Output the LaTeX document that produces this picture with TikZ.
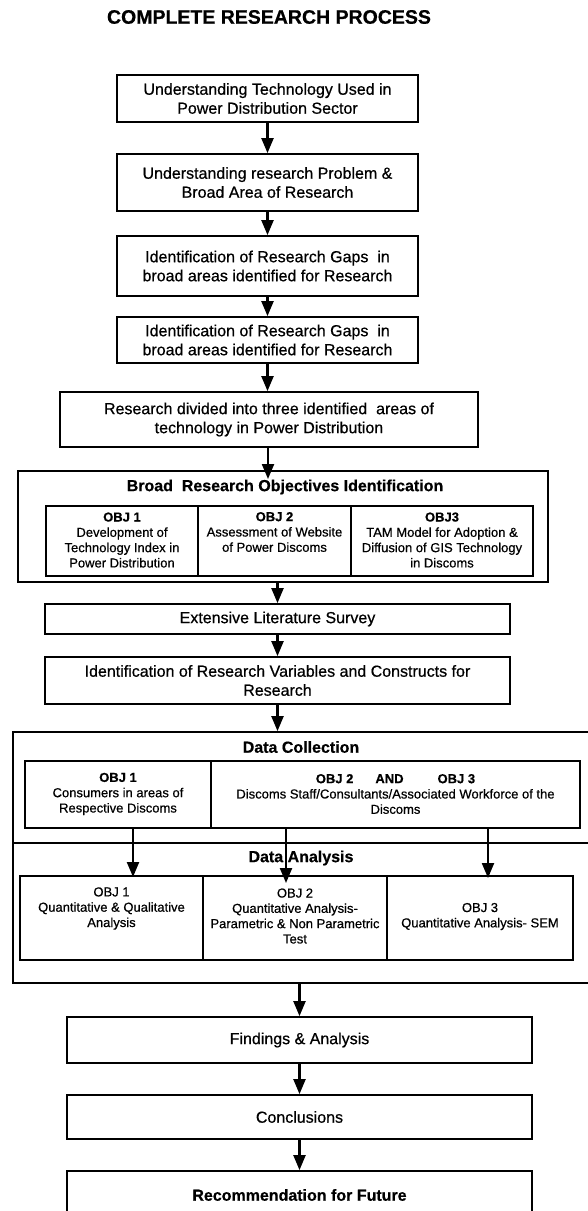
\documentclass[tikz,border=0pt]{standalone}
\usepackage{fontspec}
\setmainfont{Liberation Sans}[UprightFeatures={FakeBold=0.6},BoldFeatures={FakeBold=0.6}]
\usetikzlibrary{arrows.meta}
\begin{document}
\begin{tikzpicture}[x=1pt,y=-1pt,
  box/.style={draw, line width=1.8pt, inner sep=0pt, align=center, font=\fontsize{16}{19}\selectfont},
  cell/.style={draw, line width=1.8pt, inner sep=0pt},
  small/.style={align=center, inner sep=0pt, font=\fontsize{13}{15.3}\selectfont},
  head/.style={inner sep=0pt, font=\bfseries\fontsize{16}{19}\selectfont},
  arr/.style={line width=2.2pt, -{Triangle[width=12pt,length=15pt]}},
]
\useasboundingbox (0,0) rectangle (587,1211);
\fill[white] (0,0) rectangle (587,1211);

% title
\node[inner sep=0pt, font=\bfseries\fontsize{19.5}{22}\selectfont] (title) at (269,17) {COMPLETE RESEARCH PROCESS};

% top chain
\node[box, minimum width=301pt, minimum height=47pt] (b1) at (267.5,98.5) {Understanding Technology Used in\\Power Distribution Sector};
\node[box, minimum width=301pt, minimum height=57pt] (b2) at (267.5,182.5) {Understanding research Problem \&\\Broad Area of Research};
\node[box, minimum width=301pt, minimum height=60pt] (b3) at (267.5,266) {Identification of Research Gaps\ \ in\\broad areas identified for Research};
\node[box, minimum width=301pt, minimum height=46pt] (b4) at (267.5,340) {Identification of Research Gaps\ \ in\\broad areas identified for Research};
\node[box, minimum width=418pt, minimum height=55pt] (b5) at (269,419.5) {Research divided into three identified\ \ areas of\\technology in Power Distribution};

% broad objectives
\node[cell, minimum width=530pt, minimum height=111pt] (broad) at (283,526.5) {};
\node[head] (broadT) at (285,487) {Broad\ \ Research Objectives Identification};
\node[cell, minimum width=152pt, minimum height=70pt] (o1) at (122,541) {};
\node[cell, minimum width=153pt, minimum height=70pt] (o2) at (274.5,541) {};
\node[cell, minimum width=182pt, minimum height=70pt] (o3) at (442,541) {};
\node[small] (o1t) at (122,540) {\textbf{OBJ 1}\\Development of\\Technology Index in\\Power Distribution};
\node[small] (o2t) at (274.5,532) {\textbf{OBJ 2}\\Assessment of Website\\of Power Discoms};
\node[small] (o3t) at (442,540) {\textbf{OBJ3}\\TAM Model for Adoption \&\\Diffusion of GIS Technology\\in Discoms};

\node[box, minimum width=465pt, minimum height=30pt] (ext) at (277.5,619) {Extensive Literature Survey};
\node[box, minimum width=465pt, minimum height=47pt] (iv) at (277.5,680.5) {Identification of Research Variables and Constructs for\\Research};

% data collection / analysis
\node[cell, minimum width=597pt, minimum height=251pt] (data) at (311.5,857.5) {};
\coordinate (sepL) at (13,843);
\coordinate (sepR) at (610,843);
\draw[line width=1.8pt] (sepL) -- (sepR);
\node[head] (dcT) at (301,747) {Data Collection};
\node[cell, minimum width=186pt, minimum height=67pt] (dc1) at (118,794.5) {};
\node[cell, minimum width=369pt, minimum height=67pt] (dc2) at (395.5,794.5) {};
\node[small] (dc1t) at (118,794) {\textbf{OBJ 1}\\Consumers in areas of\\Respective Discoms};
\node[small] (dc2t) at (395.5,794) {\textbf{OBJ 2\hspace{22pt}AND\hspace{34pt}OBJ 3}\\Discoms Staff/Consultants/Associated Workforce of the\\Discoms};

\node[cell, minimum width=183pt, minimum height=84pt] (da1) at (111.5,918) {};
\node[cell, minimum width=184pt, minimum height=84pt] (da2) at (295,918) {};
\node[cell, minimum width=186pt, minimum height=84pt] (da3) at (480,918) {};
\node[small] (da1t) at (111.5,908.5) {OBJ 1\\Quantitative \& Qualitative\\Analysis};
\node[small] (da2t) at (295,916) {OBJ 2\\Quantitative Analysis-\\Parametric \& Non Parametric\\Test};
\node[small] (da3t) at (480,916.5) {OBJ 3\\Quantitative Analysis- SEM};
\node[head] (daT) at (301,858) {Data Analysis};

% bottom chain
\node[box, minimum width=465pt, minimum height=46pt] (find) at (299.5,1040) {Findings \& Analysis};
\node[box, minimum width=465pt, minimum height=44pt] (conc) at (299.5,1117) {Conclusions};
\node[box, minimum width=465pt, minimum height=69pt] (rec) at (299.5,1205.5) {};
\node[head] (recT) at (299.5,1195) {Recommendation for Future};

% arrows
\draw[arr] (b1) -- (b2);
\draw[arr] (b2) -- (b3);
\draw[arr] (b3) -- (b4);
\draw[arr] (b4.south) -- (b4.south |- b5.north);
\coordinate (bin) at (268,479);
\draw[arr] (b5.south -| bin) -- (bin);
\draw[arr] (ext.north |- broad.south) -- (ext.north);
\draw[arr] (ext) -- (iv);
\draw[arr] (iv.south) -- (iv.south |- data.north);
\coordinate (t1) at (133,877);
\coordinate (t2) at (286,883);
\coordinate (t3) at (488,878);
\draw[arr] (t1 |- dc1.south) -- (t1);
\draw[arr] (t2 |- dc2.south) -- (t2);
\draw[arr] (t3 |- dc2.south) -- (t3);
\draw[arr] (find.north |- data.south) -- (find.north);
\draw[arr] (find) -- (conc);
\draw[arr] (conc.south) -- (conc.south |- rec.north);
\end{tikzpicture}
\end{document}
